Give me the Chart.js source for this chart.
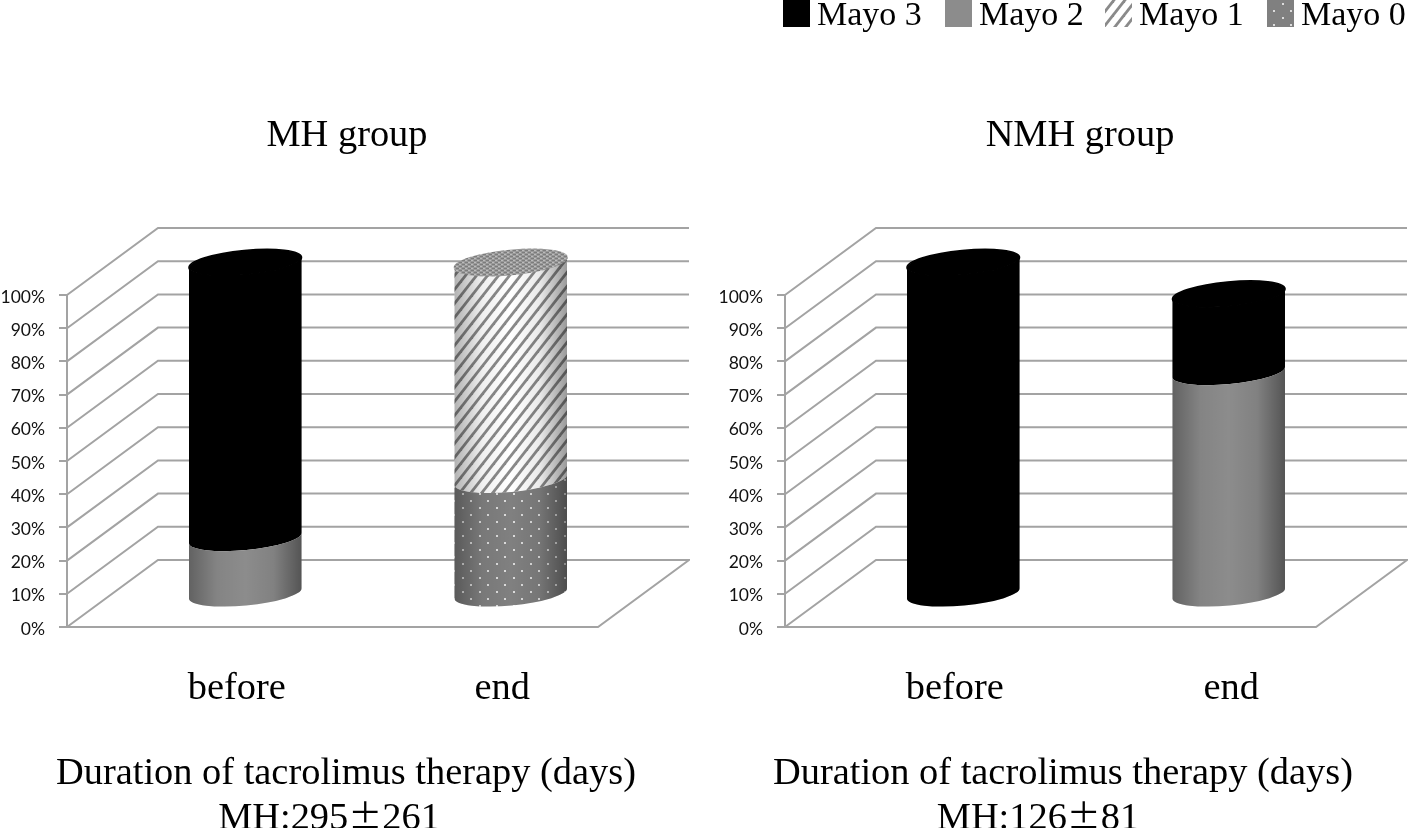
<!DOCTYPE html>
<html>
<head>
<meta charset="utf-8">
<script src="https://cdn.jsdelivr.net/npm/chart.js@4/dist/chart.umd.js"></script>
<style>
  html, body { margin: 0; padding: 0; background: #fff; overflow: hidden; }
  #page { position: relative; width: 1408px; height: 828px; overflow: hidden; }
  canvas { position: absolute; top: 0; }
  .txt { position: absolute; transform: translateX(-50%); white-space: nowrap; color: #000;
         font-family: "Liberation Serif", serif; font-size: 38.4px; line-height: 44px; }
  .pm { font-family: "Noto Sans CJK JP"; font-size: 34px; }
</style>
</head>
<body>
<div id="page">
  <canvas id="mh" width="690" height="828" style="left:0;width:690px;height:828px"></canvas>
  <canvas id="nmh" width="690" height="828" style="left:718px;width:690px;height:828px"></canvas>
</div>
<script>
// values (% of patients)
const categories = ["before", "end"];
const seriesNames = ["Mayo 0", "Mayo 1", "Mayo 2", "Mayo 3"];
const mhMayo0 = [0, 34.5];
const mhMayo1 = [0, 65.5];
const mhMayo2 = [17, 0];
const mhMayo3 = [83, 0];
const nmhMayo0 = [0, 0];
const nmhMayo1 = [0, 0];
const nmhMayo2 = [0, 67];
const nmhMayo3 = [100, 23.5];
const tickValues = [0, 10, 20, 30, 40, 50, 60, 70, 80, 90, 100];

const gridColor = "#a3a3a3";
const depthX = 91, depthY = 67; // how far the back wall sits from the axis
const liftY = 32.5; // cylinders stand half way back on the floor

function tile(w, h, paint) {
  const c = document.createElement("canvas");
  c.width = w; c.height = h;
  paint(c.getContext("2d"));
  return c.getContext("2d").createPattern(c, "repeat");
}
const hatch = tile(11, 14, (g) => {
  g.fillStyle = "#fff"; g.fillRect(0, 0, 11, 14);
  g.strokeStyle = "#8a8a8a"; g.lineWidth = 2.8;
  [-11, 0, 11].forEach((o) => { g.beginPath(); g.moveTo(o - 3, 17.82); g.lineTo(o + 14, -3.82); g.stroke(); });
});
const dots = tile(17, 14, (g) => {
  g.fillStyle = "#808080"; g.fillRect(0, 0, 17, 14);
  g.fillStyle = "#dcdcdc";
  g.fillRect(3, 3, 2, 2); g.fillRect(11, 10, 2, 2);
});
const weave = tile(6, 4, (g) => {
  g.fillStyle = "#9a9a9a"; g.fillRect(0, 0, 6, 4);
  g.fillStyle = "#7c7c7c"; g.fillRect(0, 0, 3, 1); g.fillRect(3, 2, 3, 1);
  g.fillStyle = "#bcbcbc"; g.fillRect(3, 0, 2, 1); g.fillRect(0, 2, 2, 1);
});
const fills = [dots, hatch, "#8c8c8c", "#000000"];
const capFills = ["#808080", weave, "#8c8c8c", "#000000"];

// bar element that paints one slice of a cylinder standing in the middle of the floor
const rx = 56.5, ry = 12, tilt = -0.095;
class CylinderElement extends Chart.BarElement {
  draw(ctx) {
    const { x, y, base } = this.getProps(["x", "y", "base"]);
    if (Math.abs(base - y) < 0.5) return;
    const cx = x + depthX / 2, top = y - liftY, bot = base - liftY;
    ctx.save();
    ctx.beginPath();
    ctx.ellipse(cx, top, rx, ry, tilt, Math.PI, 0, true);
    ctx.ellipse(cx, bot, rx, ry, tilt, 0, Math.PI, false);
    ctx.closePath();
    ctx.fillStyle = this.options.backgroundColor;
    ctx.fill();
    const shade = ctx.createLinearGradient(cx - rx, 0, cx + rx, 0);
    shade.addColorStop(0, "rgba(0,0,0,0.3)");
    shade.addColorStop(0.25, "rgba(0,0,0,0.06)");
    shade.addColorStop(0.5, "rgba(0,0,0,0)");
    shade.addColorStop(0.75, "rgba(0,0,0,0.08)");
    shade.addColorStop(1, "rgba(0,0,0,0.4)");
    ctx.fillStyle = shade;
    ctx.fill();
    ctx.restore();
  }
}
CylinderElement.id = "cylinder";
class CylinderController extends Chart.BarController {}
CylinderController.id = "cylinder";
CylinderController.defaults = { dataElementType: "cylinder", datasetElementType: false };
Chart.register(CylinderElement, CylinderController);

// walls and floor sit behind the marks, all taken from the scales
const wallPlugin = {
  id: "wall",
  beforeDatasetsDraw(chart) {
    const { ctx, chartArea: a, scales: { y } } = chart;
    ctx.save();
    ctx.strokeStyle = gridColor;
    ctx.lineWidth = 2;
    tickValues.forEach((v) => {
      const py = y.getPixelForValue(v);
      ctx.beginPath();
      ctx.moveTo(a.left, py);
      ctx.lineTo(a.left + depthX, py - depthY);
      ctx.lineTo(a.right + depthX, py - depthY);
      if (v === 0) {
        ctx.lineTo(a.right, py);
        ctx.lineTo(a.left, py);
      }
      ctx.stroke();
    });
    ctx.restore();
  },
  afterDatasetsDraw(chart) {
    // top face of each cylinder, on the last non empty slice
    const { ctx } = chart;
    categories.forEach((_, i) => {
      let last = -1;
      chart.data.datasets.forEach((d, k) => { if (d.data[i] > 0) last = k; });
      if (last < 0) return;
      const el = chart.getDatasetMeta(last).data[i];
      ctx.save();
      ctx.beginPath();
      ctx.ellipse(el.x + depthX / 2, el.y - liftY, rx, ry, tilt, 0, Math.PI * 2);
      ctx.fillStyle = capFills[last];
      ctx.strokeStyle = capFills[last];
      ctx.lineWidth = 1.6;
      ctx.fill();
      ctx.stroke();
      ctx.restore();
    });
  },
  afterDraw(chart) {
    // category names sit off their ticks differently in each panel
    const { ctx, scales: { x } } = chart;
    const shift = chart.options.plugins.wall.labelShift;
    ctx.save();
    ctx.font = "38.4px 'Liberation Serif'";
    ctx.fillStyle = "#000";
    ctx.textAlign = "center";
    categories.forEach((c, i) => ctx.fillText(c, x.getPixelForValue(i) + shift[i], 699));
    ctx.restore();
  },
};

// legend laid out by hand: the native one keeps too wide a gap after the box
const legendPlugin = {
  id: "topLegend",
  afterDraw(chart) {
    const { ctx } = chart;
    const boxes = [65, 227, 387, 549];
    ctx.save();
    ctx.font = "34px 'Liberation Serif'";
    chart.data.datasets.slice().reverse().forEach((d, i) => {
      ctx.fillStyle = d.backgroundColor;
      ctx.fillRect(boxes[i], 0, 27, 27);
      ctx.fillStyle = "#000";
      ctx.fillText(d.label, boxes[i] + 34, 25);
    });
    ctx.restore();
  },
};

function makeChart(id, values, labelShift, extra) {
  return new Chart(document.getElementById(id), {
    type: "cylinder",
    data: {
      labels: categories,
      datasets: seriesNames.map((name, i) => ({
        label: name,
        data: values[i],
        backgroundColor: fills[i],
        barThickness: 112,
        clip: false,
      })),
    },
    plugins: [wallPlugin].concat(extra),
    options: {
      responsive: false,
      animation: false,
      layout: { padding: { top: 295, right: 92 } },
      plugins: {
        legend: { display: false },
        tooltip: { enabled: false },
        wall: { labelShift: labelShift },
      },
      scales: {
        x: {
          stacked: true,
          grid: { display: false },
          border: { display: false },
          ticks: { display: false },
          afterFit: (s) => { s.height = 201; },
        },
        y: {
          stacked: true,
          min: 0,
          max: 100,
          afterBuildTicks: (s) => { s.ticks = tickValues.map((v) => ({ value: v })); },
          afterFit: (s) => { s.width = 67; },
          grid: { drawOnChartArea: false, color: gridColor, tickLength: 8, lineWidth: 2 },
          border: { color: gridColor, width: 2 },
          ticks: {
            padding: 14,
            labelOffset: 2,
            color: "#111",
            font: { family: "Lato", size: 17.5 },
            callback: (v) => v + "%",
          },
        },
      },
    },
  });
}

makeChart("mh", [mhMayo0, mhMayo1, mhMayo2, mhMayo3], [37, 37], []);
makeChart("nmh", [nmhMayo0, nmhMayo1, nmhMayo2, nmhMayo3], [37, 48], [legendPlugin]);

// panel headings and captions
const panelTexts = [
  { x: 347, y: 111, t: "MH group" },
  { x: 1080, y: 111, t: "NMH group" },
  { x: 346, y: 749, t: "Duration of tacrolimus therapy (days)" },
  { x: 1063, y: 749, t: "Duration of tacrolimus therapy (days)" },
  { x: 329, y: 793, t: "MH:295<span class='pm'>±</span>261" },
  { x: 1038, y: 793, t: "MH:126<span class='pm'>±</span>81" },
];
panelTexts.forEach((p) => {
  const d = document.createElement("div");
  d.className = "txt";
  d.style.left = p.x + "px";
  d.style.top = p.y + "px";
  d.innerHTML = p.t;
  document.getElementById("page").appendChild(d);
});
</script>
</body>
</html>
